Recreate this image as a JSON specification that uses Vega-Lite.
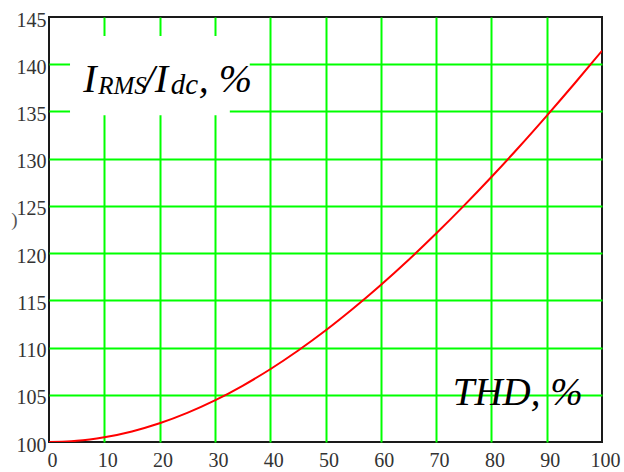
{
  "$schema": "https://vega.github.io/schema/vega-lite/v6.json",
  "width": 553,
  "height": 425,
  "autosize": {"type": "none"},
  "padding": {"left": 49, "top": 17, "right": 22, "bottom": 30},
  "background": "white",
  "config": {
    "view": {"stroke": "#1a1a1a", "strokeWidth": 2},
    "text": {"font": "Liberation Serif", "fontStyle": "italic", "color": "black", "align": "left", "baseline": "alphabetic"}
  },
  "layer": [
    {
      "data": {"values": [
        {"x": 3.8, "x2": 36.3, "y": 137.5, "y2": 143.0},
        {"x": 3.8, "x2": 32.7, "y": 134.6, "y2": 137.6}
      ]},
      "mark": {"type": "rect", "fill": "white", "stroke": null},
      "encoding": {
        "x": {"field": "x", "type": "quantitative"},
        "x2": {"field": "x2"},
        "y": {"field": "y", "type": "quantitative"},
        "y2": {"field": "y2"}
      }
    },
    {
      "data": {"values": [
        {"thd": 0, "ratio": 100.0},
        {"thd": 4, "ratio": 100.08},
        {"thd": 5, "ratio": 100.12},
        {"thd": 10, "ratio": 100.5},
        {"thd": 15, "ratio": 101.12},
        {"thd": 20, "ratio": 101.98},
        {"thd": 25, "ratio": 103.08},
        {"thd": 30, "ratio": 104.4},
        {"thd": 35, "ratio": 105.95},
        {"thd": 40, "ratio": 107.7},
        {"thd": 45, "ratio": 109.66},
        {"thd": 50, "ratio": 111.8},
        {"thd": 55, "ratio": 114.13},
        {"thd": 60, "ratio": 116.62},
        {"thd": 65, "ratio": 119.27},
        {"thd": 70, "ratio": 122.07},
        {"thd": 75, "ratio": 125.0},
        {"thd": 80, "ratio": 128.06},
        {"thd": 85, "ratio": 131.24},
        {"thd": 90, "ratio": 134.54},
        {"thd": 95, "ratio": 137.93},
        {"thd": 100, "ratio": 141.42}
      ]},
      "mark": {"type": "line", "color": "#ff0000", "strokeWidth": 2, "clip": true, "interpolate": "monotone"},
      "encoding": {
        "x": {
          "field": "thd", "type": "quantitative",
          "scale": {"domain": [0, 100], "nice": false, "zero": false},
          "axis": {
            "values": [0, 10, 20, 30, 40, 50, 60, 70, 80, 90, 100],
            "title": null,
            "grid": true,
            "gridColor": {"condition": {"test": "datum.value == 0 || datum.value == 100", "value": "transparent"}, "value": "#00ff00"},
            "gridWidth": 2,
            "gridOpacity": 1,
            "domain": false,
            "ticks": false,
            "tickSize": 0,
            "labelFont": "Liberation Serif",
            "labelFontSize": 20,
            "labelColor": "#333333",
            "labelPadding": 8,
            "labelOffset": 3,
            "labelFlush": false,
            "labelOverlap": false
          }
        },
        "y": {
          "field": "ratio", "type": "quantitative",
          "scale": {"domain": [100, 145], "nice": false, "zero": false},
          "axis": {
            "values": [100, 105, 110, 115, 120, 125, 130, 135, 140, 145],
            "title": ")",
            "titleAngle": 0,
            "titleFont": "Liberation Serif",
            "titleFontWeight": "normal",
            "titleFontSize": 19,
            "titleColor": "#555555",
            "titlePadding": 2,
            "grid": true,
            "gridColor": {"condition": {"test": "datum.value == 100 || datum.value == 145", "value": "transparent"}, "value": "#00ff00"},
            "gridWidth": 2,
            "gridOpacity": 1,
            "domain": false,
            "ticks": false,
            "tickSize": 0,
            "labelFont": "Liberation Serif",
            "labelFontSize": 20,
            "labelColor": "#333333",
            "labelPadding": 3,
            "labelOffset": 3,
            "labelFlush": false,
            "labelOverlap": false
          }
        }
      }
    },
    {
      "data": {"values": [{}]},
      "mark": {"type": "text", "text": "I", "fontSize": 40},
      "encoding": {"x": {"datum": 6.2}, "y": {"datum": 137.06}}
    },
    {
      "data": {"values": [{}]},
      "mark": {"type": "text", "text": "RMS", "fontSize": 25},
      "encoding": {"x": {"datum": 8.9}, "y": {"datum": 136.85}}
    },
    {
      "data": {"values": [{}]},
      "mark": {"type": "text", "text": "/I", "fontSize": 40},
      "encoding": {"x": {"datum": 17.1}, "y": {"datum": 137.06}}
    },
    {
      "data": {"values": [{}]},
      "mark": {"type": "text", "text": "dc", "fontSize": 29},
      "encoding": {"x": {"datum": 22.0}, "y": {"datum": 136.85}}
    },
    {
      "data": {"values": [{}]},
      "mark": {"type": "text", "text": ", %", "fontSize": 40},
      "encoding": {"x": {"datum": 27.1}, "y": {"datum": 137.06}}
    },
    {
      "data": {"values": [{}]},
      "mark": {"type": "text", "text": "THD, %", "fontSize": 39},
      "encoding": {"x": {"datum": 73.0}, "y": {"datum": 103.92}}
    }
  ]
}
